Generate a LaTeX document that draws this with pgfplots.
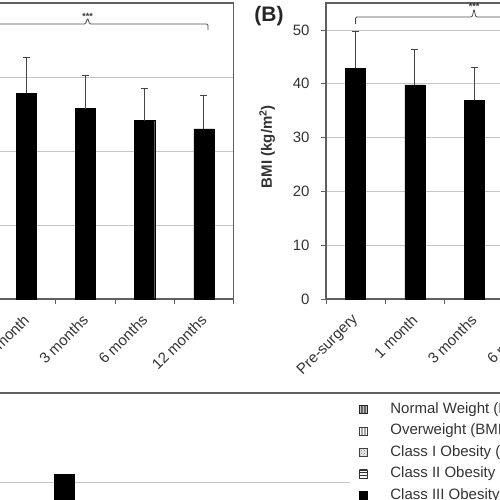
\documentclass[border=0pt]{standalone}
\usepackage{pgfplots}
\usepackage{pgfplotstable}
\pgfplotsset{compat=1.18}
\usepackage{fontspec}
\setmainfont{Liberation Sans}
\usetikzlibrary{patterns}

\definecolor{framec}{HTML}{5F5F5F}
\definecolor{gridc}{HTML}{C4C4C4}
\definecolor{txt}{HTML}{333333}
\definecolor{errc}{HTML}{444444}

\pgfplotstableread{
x y e
0 120.0 20.0
1 111.2 19.1
2 102.9 17.8
3 96.4 17.5
4 91.9 18.2
}\weightdata

\pgfplotstableread{
x y e
0 42.9 6.9
1 39.8 6.6
2 36.9 6.2
3 35.2 6.0
4 34.3 6.1
}\bmidata

\pgfplotsset{
  panel/.style={
    scale only axis, width=296pt, height=296pt,
    anchor=south west, clip=false,
    xmin=-0.5, xmax=4.5, ymin=0,
    axis line style={framec, line width=1.1pt},
    ymajorgrids, grid style={gridc, line width=0.8pt},
    xtick={0,...,4},
    xticklabels={Pre-surgery,1 month,3 months,6 months,12 months},
    major x tick style={draw=none},
    minor xtick={-0.5,0.5,...,4.5},
    minor x tick style={framec, line width=0.8pt},
    major y tick style={framec, line width=0.8pt},
    minor tick length=5pt, major tick length=5pt,
    tick align=outside, tick pos=left,
    /pgf/number format/assume math mode=true,
    ticklabel style={font=\fontsize{15}{15}\selectfont, text=txt},
    xticklabel style={yshift=-11pt, xshift=2.5pt, rotate=45, anchor=east},
    yticklabel style={xshift=-8pt},
  },
  bars/.style={
    ybar, bar width=20pt, fill=black, draw=black,
    error bars/y dir=plus, error bars/y explicit,
    error bars/error mark=-,
    error bars/error bar style={errc, line width=0.9pt},
    error bars/error mark options={errc, line width=0.9pt, mark size=3.5pt, rotate=90},
  },
}

\newcommand{\legspacer}{\pgfpathmoveto{\pgfqpoint{31pt}{0pt}}\pgfusepath{discard}}

\begin{document}
\begin{tikzpicture}[x=1pt,y=1pt]
\useasboundingbox (0pt,0pt) rectangle (500pt,500pt);
\clip (0pt,0pt) rectangle (500pt,500pt);

% Panel A (weight)
\begin{axis}[panel, at={(-62.5pt,201pt)}, ymax=160, ytick={0,40,...,160},
  ylabel={Weight (kg)}]
\addplot[bars] table[x=x, y=y, y error=e] {\weightdata};
\draw[black!70, line width=0.8pt, rounded corners=1.2pt]
  (axis cs:0,145.4) -- (axis cs:0,148.6) -- (axis cs:2.0,148.6)
  -- (axis cs:2.035,151.9) -- (axis cs:2.07,148.6) -- (axis cs:4.07,148.6)
  -- (axis cs:4.07,145.4);
\node[font=\fontsize{9}{9}\selectfont\bfseries, text=txt] at (axis cs:2.035,152.5) {***};
\end{axis}

% Panel B (BMI)
\begin{axis}[panel, at={(326pt,201pt)}, ymax=55, ytick={0,10,...,50}]
\addplot[bars] table[x=x, y=y, y error=e] {\bmidata};
\draw[black!70, line width=0.8pt, rounded corners=1.2pt]
  (axis cs:0,51.1) -- (axis cs:0,52.4) -- (axis cs:1.97,52.4)
  -- (axis cs:2.0,53.9) -- (axis cs:2.03,52.4) -- (axis cs:4.0,52.4)
  -- (axis cs:4.0,51.1);
\node[font=\fontsize{9}{9}\selectfont\bfseries, text=txt] at (axis cs:2.0,54.4) {***};
\node[rotate=90, font=\fontsize{15}{15}\selectfont\bfseries, text=txt]
  at (axis description cs:-0.199,0.515) {BMI (kg/m\textsuperscript{2})};
\end{axis}

\node[font=\fontsize{21}{21}\selectfont\bfseries, text=black!85] at (269pt,483.5pt) {(B)};

% Bottom panel
\draw[framec, line width=1.5pt] (0pt,107pt) -- (500pt,107pt);
\begin{axis}[scale only axis, width=350pt, height=180pt, at={(0pt,-72pt)},
  anchor=south west, clip=false,
  xmin=0, xmax=350, ymin=0, ymax=60,
  axis line style={draw=none}, xtick=\empty, ytick={30}, yticklabels={},
  major tick length=0pt,
  ymajorgrids, grid style={gridc, line width=0.8pt},
  legend image code/.code={\draw[#1, line width=0.8pt] (0pt,-4pt) rectangle (8pt,4pt); \legspacer},
  legend cell align=left,
  legend style={at={(axis description cs:1.0257,0.939)}, anchor=north west,
    draw=none, fill=none, inner sep=0pt, outer sep=0pt, row sep=8.5pt,
    nodes={inner sep=0pt, text height=10.5pt, text depth=2.5pt},
    font=\fontsize{15}{15}\selectfont, text=txt},
]
\addlegendimage{draw=black!85, fill=black!60, postaction={pattern=vertical lines, pattern color=black!25}}
\addlegendentry{Normal Weight (BMI 18.5--24.9)}
\addlegendimage{draw=black!75, fill=black!35, postaction={pattern=vertical lines, pattern color=white}}
\addlegendentry{Overweight (BMI 25--29.9)}
\addlegendimage{draw=black!75, fill=black!8, postaction={pattern=crosshatch dots, pattern color=black!60}}
\addlegendentry{Class I Obesity (BMI 30--34.9)}
\addlegendimage{draw=black!80, fill=white, postaction={pattern=horizontal lines, pattern color=black!80}}
\addlegendentry{Class II Obesity (BMI 35--39.9)}
\addlegendimage{draw=black, fill=black}
\addlegendentry{Class III Obesity (BMI ≥ 40)}
\addplot[ybar, bar width=20pt, fill=black, draw=black, forget plot] coordinates {(64,32.7)};
\end{axis}
\end{tikzpicture}
\end{document}
